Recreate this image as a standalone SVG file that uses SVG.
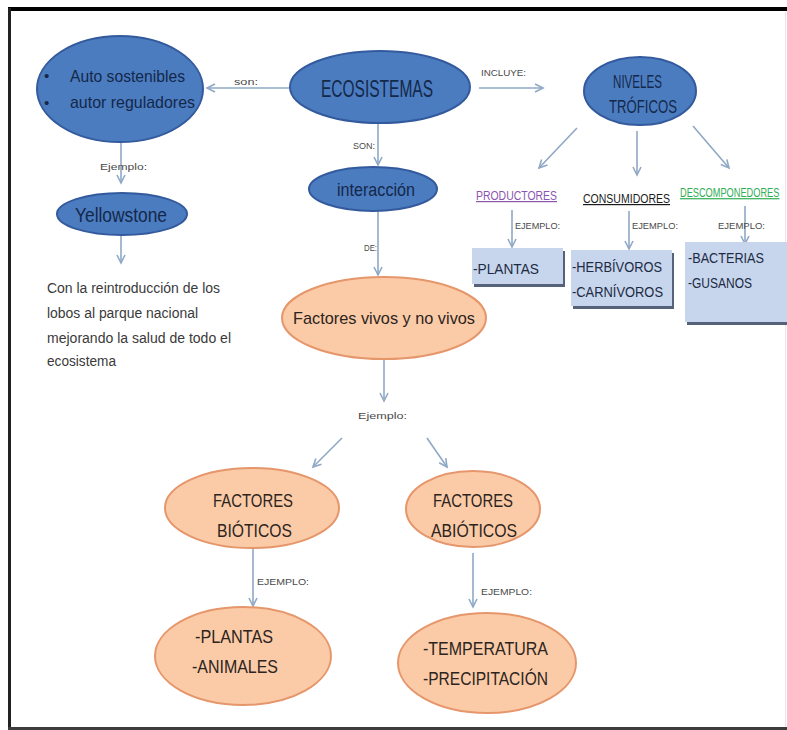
<svg xmlns="http://www.w3.org/2000/svg" width="787" height="730" viewBox="0 0 787 730">
<style>
text{font-family:"Liberation Sans",Arial,sans-serif}
.blue{fill:#4b7cc0;stroke:#335a9c;stroke-width:2}
.peach{fill:#fbcba7;stroke:#e6966b;stroke-width:2}
.bt{fill:#14284a}
.pt{fill:#2b2420}
.lbl{fill:#4a4a4a;font-size:9px}
.para{fill:#3a3a3a;font-size:14px}
.box{fill:#c7d6ec}
.shadow{fill:#56627a}
.bx{fill:#1c2a44;font-size:14px}
.conn line{stroke:#8fa8c6;stroke-width:1.6;fill:none}
</style>
<defs>
<marker id="ah" markerUnits="userSpaceOnUse" markerWidth="12" markerHeight="12" refX="9" refY="5" orient="auto">
<path d="M1,1 L9,5 L1,9" fill="none" stroke="#8fa8c6" stroke-width="1.6"/>
</marker>
</defs>
<rect width="787" height="730" fill="#ffffff"/>
<g id="frame">
<line x1="8" y1="9" x2="787" y2="9" stroke="#000" stroke-width="4"/>
<line x1="9.5" y1="8" x2="9.5" y2="729" stroke="#222" stroke-width="3"/>
<line x1="8" y1="728.5" x2="787" y2="728.5" stroke="#3c3c3c" stroke-width="3"/>
<line x1="785.5" y1="12" x2="785.5" y2="727" stroke="#e6e6e6" stroke-width="1"/>
</g>
<g class="conn" id="connectors">
<line x1="290" y1="88" x2="207" y2="88" marker-end="url(#ah)"/>
<line x1="479" y1="88" x2="543" y2="88" marker-end="url(#ah)"/>
<line x1="378" y1="124" x2="378" y2="165" marker-end="url(#ah)"/>
<line x1="378" y1="211" x2="378" y2="275" marker-end="url(#ah)"/>
<line x1="384" y1="360" x2="384" y2="401" marker-end="url(#ah)"/>
<line x1="342" y1="438" x2="313" y2="467" marker-end="url(#ah)"/>
<line x1="427" y1="438" x2="447" y2="467" marker-end="url(#ah)"/>
<line x1="253" y1="549" x2="253" y2="606" marker-end="url(#ah)"/>
<line x1="473" y1="553" x2="473" y2="607" marker-end="url(#ah)"/>
<line x1="121" y1="143" x2="121" y2="183" marker-end="url(#ah)"/>
<line x1="121" y1="236" x2="121" y2="263" marker-end="url(#ah)"/>
<line x1="577" y1="128" x2="539" y2="168" marker-end="url(#ah)"/>
<line x1="637" y1="131" x2="637" y2="175" marker-end="url(#ah)"/>
<line x1="693" y1="126" x2="729" y2="168" marker-end="url(#ah)"/>
<line x1="512" y1="210" x2="512" y2="247" marker-end="url(#ah)"/>
<line x1="629" y1="211" x2="629" y2="249" marker-end="url(#ah)"/>
<line x1="745" y1="206" x2="745" y2="244" marker-end="url(#ah)"/>
</g>
<g id="labels">
<text class="lbl" x="234" y="85" textLength="24" lengthAdjust="spacingAndGlyphs">son:</text>
<text class="lbl" x="481" y="76" textLength="45" lengthAdjust="spacingAndGlyphs">INCLUYE:</text>
<text class="lbl" x="353" y="149" textLength="22" lengthAdjust="spacingAndGlyphs" font-size="10">SON:</text>
<text class="lbl" x="364" y="251" textLength="13" lengthAdjust="spacingAndGlyphs" font-size="10">DE:</text>
<text class="lbl" x="358" y="419" textLength="49" lengthAdjust="spacingAndGlyphs" font-size="10">Ejemplo:</text>
<text class="lbl" x="257" y="585" textLength="52" lengthAdjust="spacingAndGlyphs" font-size="10">EJEMPLO:</text>
<text class="lbl" x="481" y="595" textLength="51" lengthAdjust="spacingAndGlyphs" font-size="10">EJEMPLO:</text>
<text class="lbl" x="100" y="170" textLength="47" lengthAdjust="spacingAndGlyphs" font-size="10">Ejemplo:</text>
<text class="lbl" x="515" y="229" textLength="45" lengthAdjust="spacingAndGlyphs">EJEMPLO:</text>
<text class="lbl" x="632" y="229" textLength="46" lengthAdjust="spacingAndGlyphs">EJEMPLO:</text>
<text class="lbl" x="718" y="229" textLength="47" lengthAdjust="spacingAndGlyphs">EJEMPLO:</text>
</g>
<g id="auto">
<ellipse class="blue" cx="120" cy="89" rx="83" ry="53"/>
<text class="bt" x="44" y="81" font-size="15">•</text>
<text class="bt" x="44" y="108" font-size="15">•</text>
<text class="bt" x="70" y="82" font-size="17" textLength="115" lengthAdjust="spacingAndGlyphs">Auto sostenibles</text>
<text class="bt" x="70" y="108" font-size="17" textLength="125" lengthAdjust="spacingAndGlyphs">autor reguladores</text>
</g>
<g id="ecosistemas">
<ellipse class="blue" cx="380" cy="87" rx="90" ry="36"/>
<text class="bt" x="321" y="97" font-size="24" textLength="112" lengthAdjust="spacingAndGlyphs">ECOSISTEMAS</text>
</g>
<g id="niveles">
<ellipse class="blue" cx="640" cy="91" rx="56" ry="34"/>
<text class="bt" x="613" y="88" font-size="19" textLength="49" lengthAdjust="spacingAndGlyphs">NIVELES</text>
<text class="bt" x="609" y="113" font-size="19" textLength="68" lengthAdjust="spacingAndGlyphs">TRÓFICOS</text>
</g>
<g id="interaccion">
<ellipse class="blue" cx="373" cy="189" rx="64" ry="22"/>
<text class="bt" x="337" y="196" font-size="19" textLength="78" lengthAdjust="spacingAndGlyphs">interacción</text>
</g>
<g id="yellowstone">
<ellipse class="blue" cx="122" cy="214" rx="65" ry="21"/>
<text class="bt" x="75" y="222" font-size="20" textLength="92" lengthAdjust="spacingAndGlyphs">Yellowstone</text>
</g>
<g id="parrafo">
<text class="para" x="47" y="293" textLength="173" lengthAdjust="spacingAndGlyphs">Con la reintroducción de los</text>
<text class="para" x="47" y="318" textLength="151" lengthAdjust="spacingAndGlyphs">lobos al parque nacional</text>
<text class="para" x="47" y="343" textLength="184" lengthAdjust="spacingAndGlyphs">mejorando la salud de todo el</text>
<text class="para" x="47" y="366" textLength="69" lengthAdjust="spacingAndGlyphs">ecosistema</text>
</g>
<g id="factores">
<ellipse class="peach" cx="384" cy="318" rx="102" ry="41"/>
<text class="pt" x="293" y="324" font-size="17" textLength="182" lengthAdjust="spacingAndGlyphs">Factores vivos y no vivos</text>
</g>
<g id="bioticos">
<ellipse class="peach" cx="252" cy="508" rx="87" ry="40"/>
<text class="pt" x="213" y="507" font-size="19" textLength="80" lengthAdjust="spacingAndGlyphs">FACTORES</text>
<text class="pt" x="217" y="537" font-size="19" textLength="75" lengthAdjust="spacingAndGlyphs">BIÓTICOS</text>
</g>
<g id="abioticos">
<ellipse class="peach" cx="473" cy="509" rx="67" ry="38"/>
<text class="pt" x="433" y="507" font-size="19" textLength="80" lengthAdjust="spacingAndGlyphs">FACTORES</text>
<text class="pt" x="431" y="537" font-size="19" textLength="86" lengthAdjust="spacingAndGlyphs">ABIÓTICOS</text>
</g>
<g id="plantas-animales">
<ellipse class="peach" cx="243" cy="656" rx="88" ry="49"/>
<text class="pt" x="195" y="643" font-size="19" textLength="78" lengthAdjust="spacingAndGlyphs">-PLANTAS</text>
<text class="pt" x="192" y="673" font-size="19" textLength="86" lengthAdjust="spacingAndGlyphs">-ANIMALES</text>
</g>
<g id="temperatura">
<ellipse class="peach" cx="487" cy="663" rx="89" ry="50"/>
<text class="pt" x="423" y="655" font-size="19" textLength="125" lengthAdjust="spacingAndGlyphs">-TEMPERATURA</text>
<text class="pt" x="423" y="685" font-size="19" textLength="125" lengthAdjust="spacingAndGlyphs">-PRECIPITACIÓN</text>
</g>
<g id="productores">
<text x="476" y="200" font-size="12" fill="#8a55b0" text-decoration="underline" textLength="81" lengthAdjust="spacingAndGlyphs">PRODUCTORES</text>
</g>
<g id="consumidores">
<text x="583" y="203" font-size="12" fill="#1a1a1a" text-decoration="underline" textLength="87" lengthAdjust="spacingAndGlyphs">CONSUMIDORES</text>
</g>
<g id="descomponedores">
<text transform="translate(680,197) scale(0.77,1)" x="0" y="0" font-size="12" fill="#2fae55" text-decoration="underline">DESCOMPONEDORES</text>
</g>
<g id="box-plantas">
<rect class="shadow" x="474" y="251" width="91" height="36"/>
<rect class="box" x="472" y="248" width="91" height="36"/>
<text class="bx" x="473" y="274" textLength="66" lengthAdjust="spacingAndGlyphs">-PLANTAS</text>
</g>
<g id="box-consumidores">
<rect class="shadow" x="573" y="253" width="101" height="56"/>
<rect class="box" x="571" y="250" width="101" height="56"/>
<text class="bx" x="572" y="272" textLength="90" lengthAdjust="spacingAndGlyphs">-HERBÍVOROS</text>
<text class="bx" x="572" y="297" textLength="91" lengthAdjust="spacingAndGlyphs">-CARNÍVOROS</text>
</g>
<g id="box-descomponedores">
<rect class="shadow" x="687" y="245" width="102" height="80"/>
<rect class="box" x="685" y="242" width="102" height="80"/>
<text class="bx" x="688" y="263" textLength="76" lengthAdjust="spacingAndGlyphs">-BACTERIAS</text>
<text class="bx" x="688" y="288" textLength="64" lengthAdjust="spacingAndGlyphs">-GUSANOS</text>
</g>
</svg>
